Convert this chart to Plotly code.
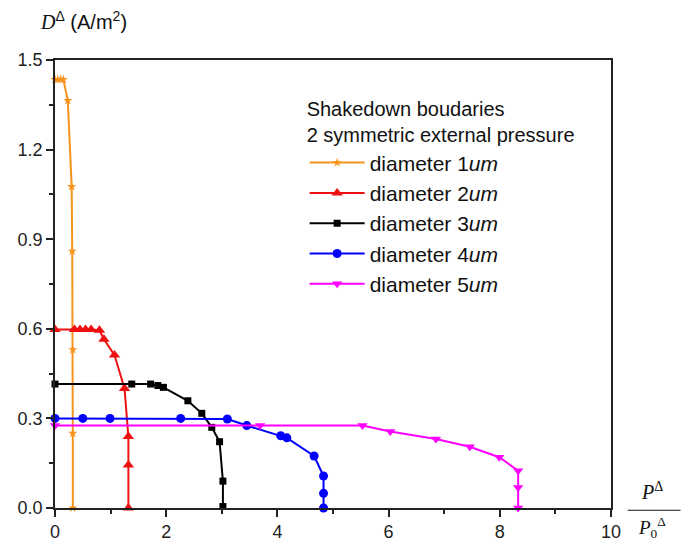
import plotly.graph_objects as go

# ---- data ----
d1_x = [0.0, 0.05, 0.10, 0.15, 0.23, 0.30, 0.31, 0.32, 0.32, 0.32]
d1_y = [1.435, 1.435, 1.435, 1.435, 1.364, 1.076, 0.86, 0.53, 0.25, 0.0]

d2_x = [0.0, 0.35, 0.45, 0.55, 0.65, 0.80, 0.88, 1.07, 1.25, 1.32, 1.32, 1.32]
d2_y = [0.598, 0.598, 0.598, 0.598, 0.598, 0.595, 0.565, 0.512, 0.40, 0.239, 0.144, 0.0]

d3_x = [0.0, 1.38, 1.72, 1.85, 1.95, 2.39, 2.64, 2.82, 2.96, 3.02, 3.02]
d3_y = [0.415, 0.415, 0.415, 0.41, 0.404, 0.359, 0.317, 0.27, 0.222, 0.09, 0.005]

d4_x = [0.0, 0.50, 0.99, 2.26, 3.10, 3.45, 4.06, 4.17, 4.66, 4.83, 4.83, 4.83]
d4_y = [0.30, 0.30, 0.30, 0.30, 0.298, 0.276, 0.242, 0.235, 0.174, 0.107, 0.049, 0.0]

d5_x = [0.0, 3.69, 5.53, 6.03, 6.85, 7.46, 7.99, 8.33, 8.33, 8.33]
d5_y = [0.276, 0.276, 0.276, 0.256, 0.231, 0.205, 0.17, 0.125, 0.069, 0.0]

names = ["diameter 1<i>um</i>", "diameter 2<i>um</i>", "diameter 3<i>um</i>",
         "diameter 4<i>um</i>", "diameter 5<i>um</i>"]
colors = ["#F7941D", "#EE1111", "#000000", "#0000FF", "#FF00FF"]
symbols = ["star", "triangle-up", "square", "circle", "triangle-down"]
sizes = [7, 10, 7, 9, 9]
xs = [d1_x, d2_x, d3_x, d4_x, d5_x]
ys = [d1_y, d2_y, d3_y, d4_y, d5_y]

fig = go.Figure()
for x, y, n, c, s, ms in zip(xs, ys, names, colors, symbols, sizes):
    fig.add_trace(go.Scatter(
        x=x, y=y, name=n, mode="lines+markers",
        line=dict(color=c, width=2),
        marker=dict(color=c, symbol=s, size=ms, line=dict(width=0)),
        cliponaxis=False,
    ))

axis_common = dict(
    showline=True, linecolor="#222222", linewidth=1.5, mirror=True,
    ticks="outside", ticklen=7, tickwidth=1.5, tickcolor="#222222",
    showgrid=False, zeroline=False, automargin=False,
    tickfont=dict(family="Liberation Sans, Arial", size=18, color="#222222"),
)

fig.update_xaxes(range=[0, 10], dtick=2, tick0=0,
                 minor=dict(dtick=1, ticks="outside", ticklen=4, tickwidth=1.5, tickcolor="#222222"),
                 **axis_common)
fig.update_yaxes(range=[0, 1.5], dtick=0.3, tick0=0, tickformat=".1f",
                 minor=dict(dtick=0.15, ticks="outside", ticklen=4, tickwidth=1.5, tickcolor="#222222"),
                 **axis_common)

fig.update_layout(
    width=681, height=541,
    margin=dict(l=55, r=70, t=60, b=33),
    plot_bgcolor="white", paper_bgcolor="white",
    showlegend=True,
    legend=dict(
        x=0.449, y=0.932, xanchor="left", yanchor="top",
        bgcolor="rgba(0,0,0,0)", borderwidth=0,
        font=dict(family="Liberation Sans, Arial", size=21, color="#111111"),
        title=dict(text="Shakedown boudaries<br>2 symmetric external pressure",
                   font=dict(family="Liberation Sans, Arial", size=20, color="#111111"),
                   side="top"),
        itemwidth=55,
        tracegroupgap=0,
    ),
    annotations=[
        dict(text='<span style="font-family:Liberation Serif"><i>D</i></span><sup>Δ</sup> (A/m<sup>2</sup>)',
             xref="paper", yref="paper", x=-0.03, y=1.088, xanchor="left", yanchor="middle",
             showarrow=False, font=dict(family="Liberation Sans, Arial", size=20, color="#111111")),
        dict(text="<i>P</i><sup>Δ</sup>",
             xref="paper", yref="paper", x=1.074, y=0.006, xanchor="center", yanchor="bottom",
             showarrow=False, font=dict(family="Liberation Serif, Times New Roman", size=20, color="#111111")),
        dict(text="<i>P</i><sub>0</sub><sup>Δ</sup>",
             xref="paper", yref="paper", x=1.074, y=-0.008, xanchor="center", yanchor="top",
             showarrow=False, font=dict(family="Liberation Serif, Times New Roman", size=19, color="#111111")),
    ],
    shapes=[
        dict(type="line", xref="paper", yref="paper", x0=1.03, x1=1.125, y0=-0.005, y1=-0.005,
             line=dict(color="#111111", width=1.2)),
    ],
    hovermode=False,
)

fig.write_html("out.html")
